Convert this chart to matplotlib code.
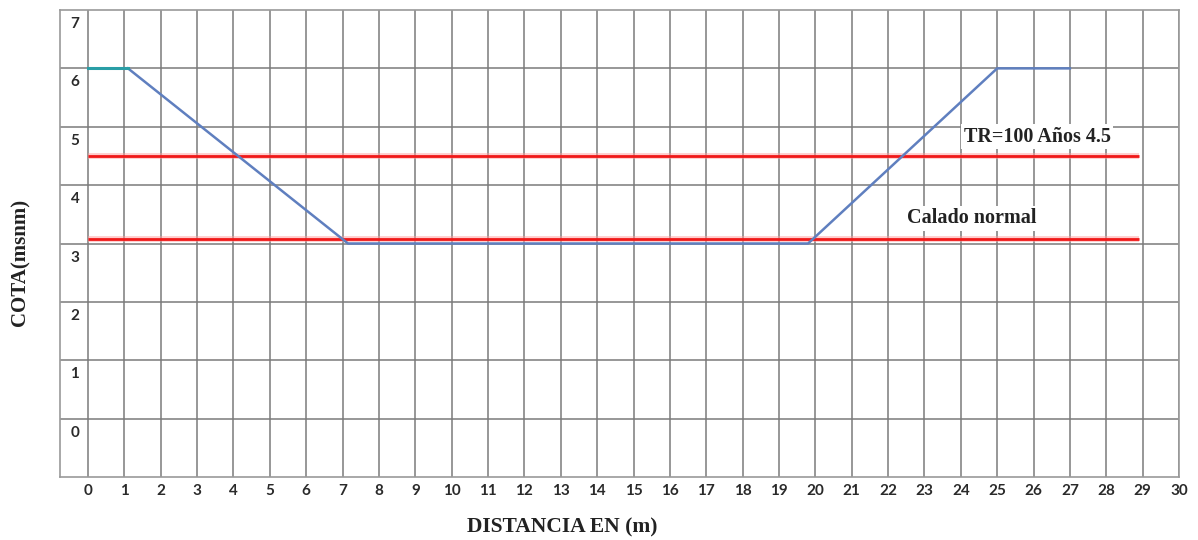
import matplotlib
matplotlib.use("Agg")
import matplotlib.pyplot as plt

# ---- data ----
profile_x = [1.1, 7.15, 19.8, 25.0, 27.0]
profile_y = [6.0, 3.0, 3.0, 6.0, 6.0]
crest_x = [0.0, 1.1]
crest_y = [6.0, 6.0]
tr100_level = 4.5
normal_level = 3.08
water_x = [0.0, 28.9]
x_ticks = list(range(0, 31))
y_ticks = list(range(0, 8))
tr_label = "TR=100 Años 4.5"
normal_label = "Calado normal"

fig = plt.figure(figsize=(11.98, 5.40), dpi=100)
ax = fig.add_axes([60/1198, 1-477/540, (1179-60)/1198, (477-10)/540])
ax.set_xlim(-0.77, 30)
ax.set_ylim(-1, 7)

grid_c = "#7a7a7a"
ax.set_xticks(x_ticks)
ax.set_yticks([t for t in y_ticks if t < 7])
ax.grid(True, color=grid_c, linewidth=1.1)
ax.set_axisbelow(True)
ax.tick_params(length=0)
ax.set_yticklabels([])
ax.set_xticklabels([str(t) for t in x_ticks], fontfamily="Lato",
                   fontweight="bold", fontsize=11, color="#2a2a2a")
ax.tick_params(axis="x", pad=5)
for s in ax.spines.values():
    s.set_color("#9a9a9a")
    s.set_linewidth(1.2)

# y labels inside plot, below each grid line
for t in y_ticks:
    ax.text(-0.36, t - 0.24, str(t), ha="center", va="center",
            fontfamily="Lato", fontweight="bold", fontsize=11, color="#2a2a2a")

# water levels
for lvl in (tr100_level, normal_level):
    ax.plot(water_x, [lvl, lvl], color="#ff9a9a", lw=4.2, alpha=0.5,
            solid_capstyle="butt", zorder=3)
    ax.plot(water_x, [lvl, lvl], color="#f01818", lw=2.0,
            solid_capstyle="butt", zorder=4)

# terrain profile
ax.plot(profile_x, profile_y, color="#5f7fbf", lw=1.8, zorder=5)
ax.plot(crest_x, crest_y, color="#2a9ea6", lw=2.2, zorder=5)

bbox = dict(facecolor="white", edgecolor="none", pad=2)
ax.text(26.1, 4.83, tr_label, ha="center", va="center", fontfamily="Liberation Serif",
        fontweight="bold", fontsize=14.5, color="#222222", bbox=bbox, zorder=6)
ax.text(24.3, 3.43, normal_label, ha="center", va="center", fontfamily="Liberation Serif",
        fontweight="bold", fontsize=14.5, color="#222222", bbox=bbox, zorder=6)

ax.set_xlabel("DISTANCIA EN (m)", fontfamily="Liberation Serif", fontweight="bold",
              fontsize=15.5, color="#222222")
ax.xaxis.label.set_va("center")
ax.xaxis.set_label_coords((562-60)/1119, (477-527)/467)
ax.set_ylabel("COTA(msnm)", fontfamily="Liberation Serif", fontweight="bold",
              fontsize=15, color="#222222")
ax.yaxis.label.set_va("center")
ax.yaxis.set_label_coords((20-60)/1119, (477-262)/467)

fig.savefig("out.png", dpi=100, facecolor="white")
